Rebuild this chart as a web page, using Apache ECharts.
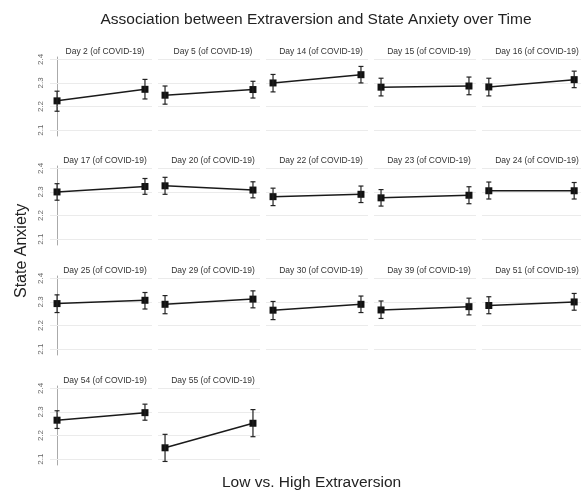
<!DOCTYPE html>
<html><head><meta charset="utf-8">
<script src="https://cdn.jsdelivr.net/npm/echarts@6/dist/echarts.min.js"></script>
<style>html,body{margin:0;padding:0;background:#fff}#c{width:581px;height:497px}</style>
</head><body><div id="c"></div>
<script>
const days = [2,5,14,15,16,17,20,22,23,24,25,29,30,39,51,54,55];
const panelTitles = days.map(d => 'Day ' + d + ' (of COVID-19)');
const lowMean  = [2.224,2.248,2.300,2.282,2.283,2.300,2.326,2.280,2.275,2.305,2.293,2.290,2.265,2.266,2.285,2.265,2.148];
const lowLo    = [2.180,2.210,2.262,2.245,2.245,2.265,2.290,2.242,2.240,2.270,2.255,2.250,2.225,2.230,2.250,2.230,2.090];
const lowHi    = [2.265,2.287,2.336,2.320,2.320,2.335,2.362,2.316,2.310,2.342,2.330,2.327,2.302,2.304,2.322,2.305,2.205];
const highMean = [2.273,2.272,2.335,2.287,2.314,2.323,2.308,2.290,2.286,2.305,2.307,2.312,2.290,2.280,2.300,2.297,2.252];
const highLo   = [2.232,2.236,2.300,2.250,2.280,2.290,2.275,2.255,2.250,2.270,2.270,2.275,2.255,2.245,2.265,2.265,2.195];
const highHi   = [2.315,2.307,2.370,2.325,2.350,2.357,2.343,2.325,2.322,2.340,2.340,2.347,2.325,2.316,2.336,2.333,2.310];
const yTicks = [2.1, 2.2, 2.3, 2.4];
const groups = ['Low', 'High'];

const colLeft = [50, 158, 266, 374, 482];
const rowTop = [57, 166, 276, 386];
const W = 102, H = 79;

const grid = [], xAxis = [], yAxis = [], series = [], title = [];
title.push({text: 'Association between Extraversion and State Anxiety over Time', left: 311, top: 7, textAlign: 'center',
  textStyle: {fontFamily: 'Liberation Sans, Arial', fontSize: 15.5, fontWeight: 'normal', color: '#222'}});

days.forEach((d, i) => {
  const r = Math.floor(i / 5), c = i % 5;
  grid.push({left: colLeft[c], top: rowTop[r], width: W, height: H});
  title.push({text: panelTitles[i], left: colLeft[c] + W / 2 - 1, top: rowTop[r] - 15, textAlign: 'center',
    textStyle: {fontFamily: 'Liberation Sans, Arial', fontSize: 8.5, fontWeight: 'normal', color: '#333'}});
  xAxis.push({type: 'value', gridIndex: i, min: -0.08, max: 1.08, show: false});
  const first = c === 0;
  yAxis.push({type: 'value', gridIndex: i, min: 2.075, max: 2.41,
    splitLine: {show: false},
    axisLine: {show: first, lineStyle: {color: '#aaa', width: 1}},
    axisTick: {show: first, length: 3, customValues: yTicks, lineStyle: {color: '#aaa'}},
    axisLabel: {show: first, customValues: yTicks, rotate: 90, fontSize: 8, color: '#666', margin: 5,
      fontFamily: 'Liberation Sans, Arial', formatter: v => v.toFixed(1)}
  });
  series.push({
    type: 'line', xAxisIndex: i, yAxisIndex: i,
    data: [[0, lowMean[i]], [1, highMean[i]]],
    symbol: 'rect', symbolSize: 7, itemStyle: {color: '#111'},
    lineStyle: {color: '#1a1a1a', width: 1.5}, z: 3, silent: true,
    markLine: {silent: true, symbol: 'none', label: {show: false}, animation: false,
      lineStyle: {color: '#ebebeb', width: 1, type: 'solid'},
      data: yTicks.map(t => ({yAxis: t})), z: 1}
  });
  series.push({
    type: 'custom', xAxisIndex: i, yAxisIndex: i, z: 4, silent: true,
    data: [[0, lowLo[i], lowHi[i]], [1, highLo[i], highHi[i]]],
    renderItem: (params, api) => {
      const x = api.value(0);
      const top = api.coord([x, api.value(2)]);
      const bot = api.coord([x, api.value(1)]);
      const hw = 2.5;
      const st = {stroke: '#222', lineWidth: 1.2};
      return {type: 'group', children: [
        {type: 'line', shape: {x1: top[0], y1: top[1], x2: bot[0], y2: bot[1]}, style: st},
        {type: 'line', shape: {x1: top[0] - hw, y1: top[1], x2: top[0] + hw, y2: top[1]}, style: st},
        {type: 'line', shape: {x1: bot[0] - hw, y1: bot[1], x2: bot[0] + hw, y2: bot[1]}, style: st}
      ]};
    }
  });
});

const chart = echarts.init(document.getElementById('c'), null, {renderer: 'canvas'});
chart.setOption({
  animation: false,
  title, grid, xAxis, yAxis, series,
  graphic: [
    {type: 'text', left: 310 - 88, top: 475, style: {text: 'Low vs. High Extraversion', font: '15.5px "Liberation Sans", Arial', fill: '#222'}},
    {type: 'text', x: 14, y: 298, rotation: Math.PI / 2, style: {text: 'State Anxiety', font: '16px "Liberation Sans", Arial', fill: '#222'}}
  ]
});
</script></body></html>
